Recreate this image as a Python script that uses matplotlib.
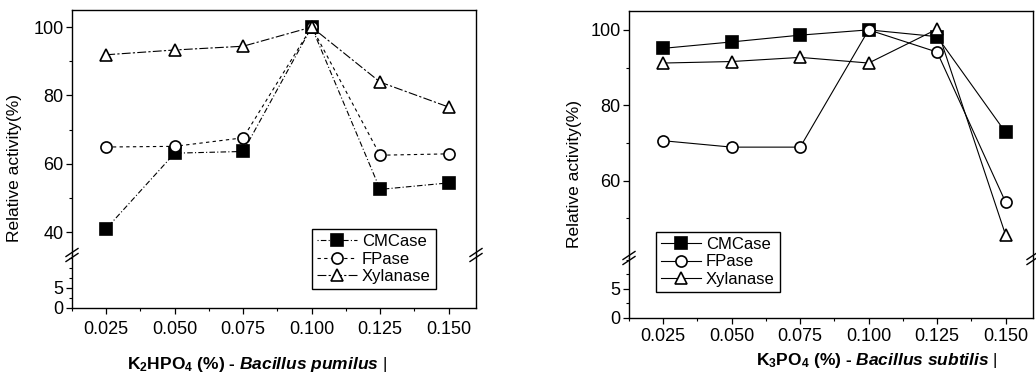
import matplotlib
matplotlib.use('Agg')
import matplotlib.pyplot as plt
from matplotlib.ticker import FixedLocator

plt.rcParams['font.family'] = ['Liberation Sans', 'DejaVu Sans']
plt.rcParams['mathtext.fontset'] = 'custom'
plt.rcParams['mathtext.rm'] = 'Liberation Sans'
plt.rcParams['mathtext.bf'] = 'Liberation Sans:bold'
plt.rcParams['mathtext.it'] = 'Liberation Sans:italic'
try:
    plt.rcParams['mathtext.bfit'] = 'Liberation Sans:bold:italic'
    BFIT = r'\mathbfit'
except KeyError:
    BFIT = r'\mathbf'

# Data
conc = [0.025, 0.050, 0.075, 0.100, 0.125, 0.150]
xticklabels = ['0.025', '0.050', '0.075', '0.100', '0.125', '0.150']

# Bacillus pumilus, K2HPO4
pum_cmc = [41.0, 63.1, 63.6, 100.0, 52.5, 54.4]
pum_fp = [64.9, 65.1, 67.6, 100.0, 62.5, 62.9]
pum_xyl = [91.9, 93.3, 94.4, 100.0, 83.9, 76.6]

# Bacillus subtilis, K3PO4
sub_cmc = [95.1, 96.8, 98.6, 100.0, 98.2, 72.8]
sub_fp = [70.6, 68.9, 68.9, 100.0, 94.1, 54.3]
sub_xyl = [91.2, 91.6, 92.7, 91.2, 100.2, 45.6]

names = ['CMCase', 'FPase', 'Xylanase']
markers = ['s', 'o', '^']
faces = ['black', 'white', 'white']

W, H = 1036, 379
fig = plt.figure(figsize=(W / 100, H / 100), dpi=100)


def px_axes(x0, x1, y_top, y_bot):
    return fig.add_axes([x0 / W, 1 - y_bot / H, (x1 - x0) / W, (y_bot - y_top) / H])


def panel(x0, x1, ytop, ybreak, ybot, series, styles, up_lim, low_lim,
          up_major, up_minor, pad):
    up = px_axes(x0, x1, ytop, ybreak)
    lo = px_axes(x0, x1, ybreak, ybot)
    handles = []
    for vals, name, m, fc, ls in zip(series, names, markers, faces, styles):
        h, = up.plot(conc, vals, linestyle=ls, color='black', lw=0.8,
                     marker=m, ms=8 if m != '^' else 9, mfc=fc, mec='black',
                     mew=1.2, label=name)
        handles.append(h)
    for ax in (up, lo):
        ax.set_xlim(0.0125, 0.16)
        for s in ax.spines.values():
            s.set_linewidth(1.0)
        ax.tick_params(axis='both', which='both', direction='out',
                       labelsize=13, top=False, right=False)
        ax.tick_params(which='major', length=4, width=0.9)
        ax.tick_params(which='minor', length=2.5, width=0.8)
        ax.tick_params(axis='y', pad=2)
    up.set_ylim(*up_lim)
    up.yaxis.set_major_locator(FixedLocator(up_major))
    up.yaxis.set_minor_locator(FixedLocator(up_minor))
    up.spines['bottom'].set_visible(False)
    up.tick_params(axis='x', which='both', bottom=False, labelbottom=False)
    lo.set_ylim(*low_lim)
    lo.yaxis.set_major_locator(FixedLocator([0, 5]))
    lo.yaxis.set_minor_locator(FixedLocator([2.5, 7.5, 10, 12.5]))
    lo.spines['top'].set_visible(False)
    lo.set_xticks(conc)
    lo.set_xticklabels(xticklabels)
    lo.xaxis.set_minor_locator(FixedLocator([c + 0.0125 for c in [0.0] + conc]))
    lo.tick_params(axis='x', which='major', pad=pad)
    # break marks
    yb = 1 - ybreak / H
    for xe in (x0, x1):
        for off in (-2.5, 2.5):
            fig.add_artist(plt.Line2D([(xe - 6) / W, (xe + 6) / W],
                                      [yb + (off - 4) / H, yb + (off + 4) / H],
                                      color='black', lw=1.0))
    return up, lo, handles


up1, lo1, h1 = panel(72, 476, 10, 255, 308, [pum_cmc, pum_fp, pum_xyl],
                     [(0, (1, 2, 5, 2)), (0, (3, 3)), (0, (8, 2, 2, 2))],
                     (33.3, 105), (0, 13.2), [40, 60, 80, 100], [50, 70, 90], 5)
up2, lo2, h2 = panel(629, 1033, 11, 258, 318, [sub_cmc, sub_fp, sub_xyl],
                     ['-', '-', '-'],
                     (39.5, 105), (0, 10.3), [60, 80, 100], [50, 70, 90], 3)

leg_kw = dict(loc='upper left', fontsize=12, frameon=True, fancybox=False,
              edgecolor='black', framealpha=1, handlelength=2.4,
              borderpad=0.3, labelspacing=0.15, handletextpad=0.3,
              borderaxespad=0)
l1 = fig.legend(handles=h1, bbox_to_anchor=(312 / W, 1 - 229 / H), **leg_kw)
l2 = fig.legend(handles=h2, bbox_to_anchor=(656 / W, 1 - 232 / H), **leg_kw)
for l in (l1, l2):
    l.get_frame().set_linewidth(1.0)

fig.text(15 / W, 1 - 168 / H, 'Relative activity(%)', rotation=90,
         ha='center', va='center', fontsize=12.5)
fig.text(574 / W, 1 - 174 / H, 'Relative activity(%)', rotation=90,
         ha='center', va='center', fontsize=12.5)

lab1 = r'K$_\mathbf{2}$HPO$_\mathbf{4}$ (%) - $' + BFIT + r'{Bacillus\ pumilus}$ $\mathrm{|}$'
lab2 = r'K$_\mathbf{3}$PO$_\mathbf{4}$ (%) - $' + BFIT + r'{Bacillus\ subtilis}$ $\mathrm{|}$'
fig.text(257 / W, 1 - 365 / H, lab1, ha='center', va='center', fontsize=12.5,
         fontweight='bold')
fig.text(877 / W, 1 - 360 / H, lab2, ha='center', va='center', fontsize=12.5,
         fontweight='bold')

fig.savefig('out.png', dpi=100)
